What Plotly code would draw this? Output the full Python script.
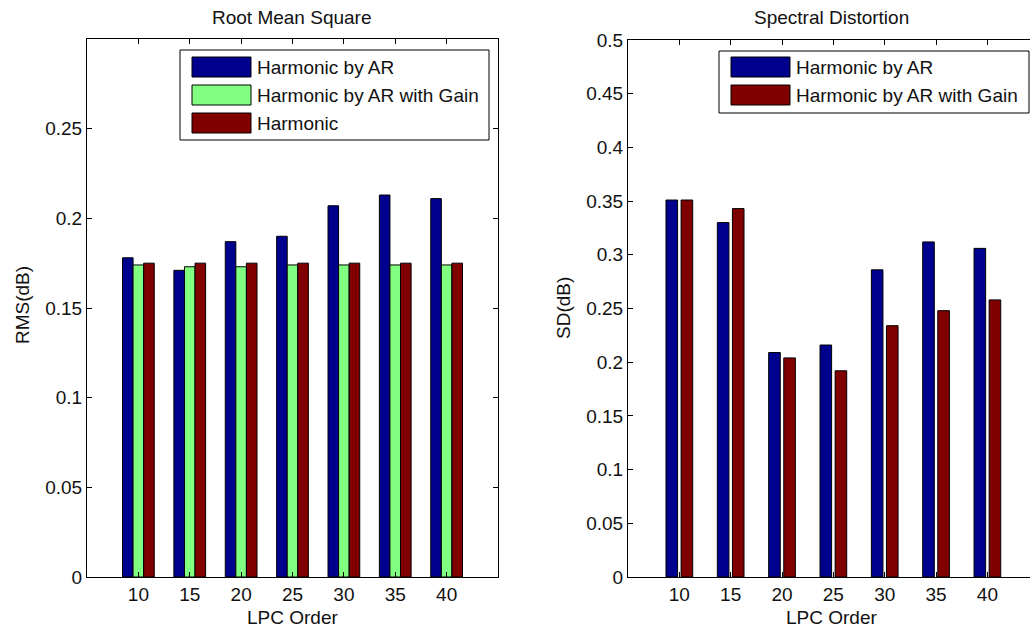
import plotly.graph_objects as go

# LPC model orders evaluated
lpc_order = [10, 15, 20, 25, 30, 35, 40]

# Root mean square error (dB)
rms_ar = [0.178, 0.171, 0.187, 0.190, 0.207, 0.213, 0.211]
rms_ar_gain = [0.174, 0.173, 0.173, 0.174, 0.174, 0.174, 0.174]
rms_harmonic = [0.175, 0.175, 0.175, 0.175, 0.175, 0.175, 0.175]

# Spectral distortion (dB)
sd_ar = [0.351, 0.330, 0.209, 0.216, 0.286, 0.312, 0.306]
sd_ar_gain = [0.351, 0.343, 0.204, 0.192, 0.234, 0.248, 0.258]

rms_ticks = [0, 0.05, 0.1, 0.15, 0.2, 0.25]
rms_ticktext = ["0", "0.05", "0.1", "0.15", "0.2", "0.25"]
sd_ticks = [0, 0.05, 0.1, 0.15, 0.2, 0.25, 0.3, 0.35, 0.4, 0.45, 0.5]
sd_ticktext = ["0", "0.05", "0.1", "0.15", "0.2", "0.25", "0.3", "0.35", "0.4", "0.45", "0.5"]

names_rms = ["Harmonic by AR", "Harmonic by AR with Gain", "Harmonic"]
names_sd = ["Harmonic by AR", "Harmonic by AR with Gain"]

BLUE = "#00008F"
GREEN = "#80FF80"
RED = "#800000"

W, H = 1030, 628
FONT = "Liberation Sans, Arial, sans-serif"
FS = 19
TXT = "#111111"


def px(x):
    return x / W


def py(y):
    return 1 - y / H


fig = go.Figure()

# Left panel: three grouped series
left_width = 1.03
for vals, name, color, off in [
    (rms_ar, names_rms[0], BLUE, -1.545),
    (rms_ar_gain, names_rms[1], GREEN, -0.515),
    (rms_harmonic, names_rms[2], RED, 0.515),
]:
    fig.add_trace(go.Bar(
        x=lpc_order, y=vals, name=name, width=left_width, offset=off,
        marker=dict(color=color, line=dict(color="black", width=1)),
        xaxis="x", yaxis="y", showlegend=False,
    ))

# Right panel: two series separated by a small gap
right_width = 1.13
for vals, name, color, off in [
    (sd_ar, names_sd[0], BLUE, -1.30),
    (sd_ar_gain, names_sd[1], RED, 0.17),
]:
    fig.add_trace(go.Bar(
        x=lpc_order, y=vals, name=name, width=right_width, offset=off,
        marker=dict(color=color, line=dict(color="black", width=1)),
        xaxis="x2", yaxis="y2", showlegend=False,
    ))

axis_common = dict(
    showgrid=False, zeroline=False, showline=True, linecolor="black",
    linewidth=1, ticks="inside", ticklen=5, tickcolor="black",
    automargin=False,
    tickfont=dict(family=FONT, size=FS, color=TXT),
)

fig.update_layout(
    width=W, height=H,
    margin=dict(l=0, r=0, t=0, b=0),
    paper_bgcolor="white", plot_bgcolor="white",
    barmode="overlay",
    showlegend=False,
    font=dict(family=FONT, size=FS, color=TXT),
    xaxis=dict(axis_common, domain=[px(87), px(498)], range=[5, 45],
               tickvals=lpc_order, ticktext=[str(v) for v in lpc_order],
               mirror="ticks", anchor="y"),
    yaxis=dict(axis_common, domain=[py(577), py(39)], range=[0, 0.3],
               tickvals=rms_ticks, ticktext=rms_ticktext,
               mirror="ticks", anchor="x"),
    xaxis2=dict(axis_common, domain=[px(628), 1.0], range=[5, 44.15],
                tickvals=lpc_order, ticktext=[str(v) for v in lpc_order],
                mirror="ticks", anchor="y2"),
    yaxis2=dict(axis_common, domain=[py(577), py(40)], range=[0, 0.5],
                tickvals=sd_ticks, ticktext=sd_ticktext,
                mirror=False, anchor="x2"),
)

annotations = []
shapes = []


def text(x, y, s, anchor="center", angle=0):
    annotations.append(dict(
        x=px(x), y=py(y), xref="paper", yref="paper", text=s,
        showarrow=False, xanchor=anchor, yanchor="middle", textangle=angle,
        font=dict(family=FONT, size=FS, color=TXT),
    ))


# Titles and axis labels
text(292, 18, "Root Mean Square")
text(831, 18, "Spectral Distortion")
text(292, 617, "LPC Order")
text(831, 617, "LPC Order")
text(23, 305, "RMS(dB)", angle=-90)
text(563, 308, "SD(dB)", angle=-90)


def legend_box(x0, y0, x1, y1, entries, sw_x0, sw_x1, txt_x, row0, pitch):
    shapes.append(dict(type="rect", xref="paper", yref="paper",
                       x0=px(x0), x1=px(x1), y0=py(y1), y1=py(y0),
                       fillcolor="white", line=dict(color="black", width=1),
                       layer="above"))
    for i, (name, color) in enumerate(entries):
        cy = row0 + i * pitch
        shapes.append(dict(type="rect", xref="paper", yref="paper",
                           x0=px(sw_x0), x1=px(sw_x1),
                           y0=py(cy + 10), y1=py(cy - 10),
                           fillcolor=color, line=dict(color="black", width=1),
                           layer="above"))
        text(txt_x, cy, name, anchor="left")


legend_box(180, 50, 489, 140,
           list(zip(names_rms, [BLUE, GREEN, RED])),
           192, 251, 255, 67, 28)
legend_box(719, 51, 1029, 113,
           list(zip(names_sd, [BLUE, RED])),
           731, 790, 794, 67, 28)

fig.update_layout(annotations=annotations, shapes=shapes)

fig.write_html("out.html")
